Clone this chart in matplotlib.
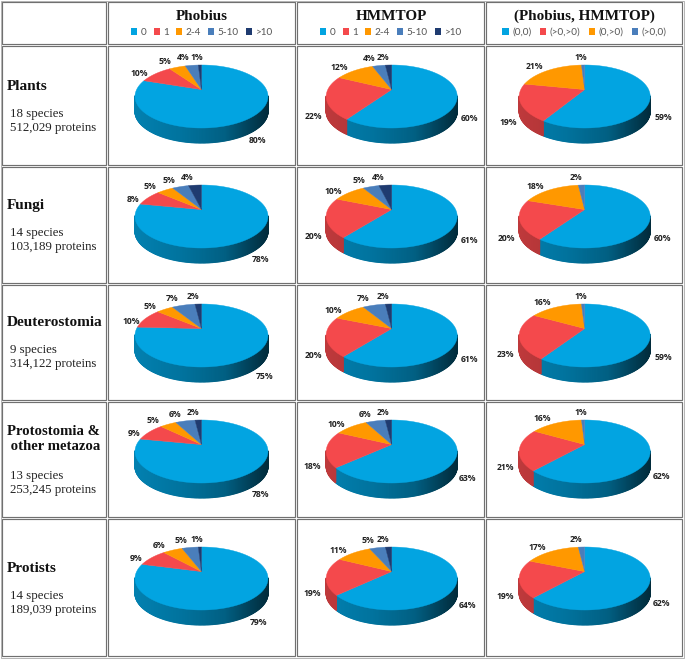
import numpy as np
import matplotlib
matplotlib.use("Agg")
import matplotlib.pyplot as plt
from matplotlib.patches import Patch, Rectangle

W, H = 685, 659

# ---------- data ----------
kingdoms = ["Plants", "Fungi", "Deuterostomia", "Protostomia &\n other metazoa", "Protists"]
species = ["18 species", "14 species", "9 species", "13 species", "14 species"]
proteins = ["512,029 proteins", "103,189 proteins", "314,122 proteins", "253,245 proteins", "189,039 proteins"]
methods = ["Phobius", "HMMTOP", "(Phobius, HMMTOP)"]
legend_tm = ["0", "1", "2-4", "5-10", ">10"]
legend_pair = ["(0,0)", "(>0,>0)", "(0,>0)", "(>0,0)"]
phobius = [[80, 10, 5, 4, 1], [78, 8, 5, 5, 4], [75, 10, 5, 7, 2], [78, 9, 5, 6, 2], [79, 9, 6, 5, 1]]
hmmtop = [[60, 22, 12, 4, 2], [61, 20, 10, 5, 4], [61, 20, 10, 7, 2], [63, 18, 10, 6, 2], [64, 19, 11, 5, 2]]
combined = [[59, 19, 21, 1], [60, 20, 18, 2], [59, 23, 16, 1], [62, 21, 16, 1], [62, 19, 17, 2]]
colors = ["#02A4E1", "#F4494C", "#FF9800", "#4A7EBB", "#1F3B70"]

# ---------- layout (pixels) ----------
col_edges = [(2, 106.5), (108.5, 295.5), (297.5, 484.5), (486.5, 682.5)]
row_edges = [(2, 43.5), (45.5, 164.5), (166.5, 282.5), (284.5, 400), (401.5, 517), (518.5, 656)]
pie_cx = [201.5, 391.7, 584.7]
pie_rx = [66.5, 65.5, 65.5]
pie_top = [65, 185, 304, 420, 547]
RY, DEPTH, APEX = 31.5, 15.0, 0.22

fig = plt.figure(figsize=(W / 100, H / 100), dpi=100, facecolor="white")
bg = fig.add_axes([0, 0, 1, 1])
bg.set_xlim(0, W)
bg.set_ylim(H, 0)
bg.axis("off")

for x0, x1 in col_edges:
    for y0, y1 in row_edges:
        bg.add_patch(Rectangle((x0, y0), x1 - x0, y1 - y0, fc="white", ec="#707070", lw=0.85))
bg.add_patch(Rectangle((0.8, 0.8), 683, 657, fc="none", ec="#A8A8A8", lw=0.6))

serif = "Liberation Serif"
for j, name in enumerate(methods):
    cx = sum(col_edges[j + 1]) / 2
    bg.text(cx, 16.5, name, family=serif, weight="bold", fontsize=10.9, ha="center", va="center", color="#111111")

title_y = [86, 205.5, 322, 439, 569]
title_size = [11, 11, 11, 10.6, 11]
sub_y = [114, 233, 350, 476, 596]
for i in range(5):
    bg.text(7, title_y[i], kingdoms[i], family=serif, weight="bold", fontsize=title_size[i], ha="left", va="center",
            color="#111111", linespacing=1.28)
    bg.text(10, sub_y[i], species[i], family=serif, fontsize=9.3, ha="left", va="center", color="#222222")
    bg.text(10, sub_y[i] + 14, proteins[i], family=serif, fontsize=9.3, ha="left", va="center", color="#222222")

# legends
for j, labels in enumerate([legend_tm, legend_tm, legend_pair]):
    cx = sum(col_edges[j + 1]) / 2
    handles = [Patch(fc=colors[k], ec="none", label=labels[k]) for k in range(len(labels))]
    fig.legend(handles=handles, ncol=len(labels), loc="center",
               bbox_to_anchor=(cx / W, 1 - 32.3 / H), frameon=False,
               prop={"family": "Lato", "size": 7.2}, labelcolor="#555555",
               handlelength=0.62, handleheight=0.62, handletextpad=0.35,
               columnspacing=0.7 if j < 2 else 0.85, borderpad=0, borderaxespad=0)


def rim(theta):
    """Where a ray from the raised pie apex meets the circular rim."""
    dx, dy = np.cos(theta), np.sin(theta)
    b = APEX * dy
    t = -b + np.sqrt(b * b - APEX * APEX + 1)
    return t * dx, APEX + t * dy


def side_shade(x):
    return np.interp(x, [-1, -0.3, 0.35, 0.75, 1], [0.78, 0.70, 0.58, 0.38, 0.26])


def label_pos(mid):
    """Label centre around the pie, from a slice's middle direction."""
    s, c = np.cos(mid), np.sin(mid)
    if c > 0:
        return s * 1.05 + np.sign(s) * min(0.08, abs(s)), c * 1.25
    return s * 1.2 + np.sign(s) * 0.16 * abs(c), c * 1.4 - 0.28


def draw_pie(ax, values):
    total = sum(values)
    cum = np.concatenate([[0], np.cumsum(values)]) / total
    bounds = np.pi / 2 - 2 * np.pi * cum
    depth = DEPTH / RY
    for k in range(len(values)):
        th = np.linspace(bounds[k], bounds[k + 1], max(int(values[k] * 4), 3))
        xs, ys = rim(th)
        rgb = np.array(matplotlib.colors.to_rgb(colors[k]))
        for m in range(len(th) - 1):
            if ys[m] < 0.02 or ys[m + 1] < 0.02:
                shade = side_shade((xs[m] + xs[m + 1]) / 2)
                ax.fill([xs[m], xs[m + 1], xs[m + 1], xs[m]],
                        [ys[m], ys[m + 1], ys[m + 1] - depth, ys[m] - depth],
                        color=rgb * shade, lw=0.8, zorder=1)
        ax.fill(np.r_[0, xs], np.r_[APEX, ys], color=colors[k], lw=0.3, zorder=2)
    for k, v in enumerate(values):
        lx, ly = label_pos((bounds[k] + bounds[k + 1]) / 2)
        ax.text(lx, ly, f"{v}%", family="Open Sans", weight="bold", fontsize=6.2, ha="center", va="center",
                color="#222222", zorder=3)


for j, table in enumerate([phobius, hmmtop, combined]):
    x0, x1 = col_edges[j + 1]
    for i, vals in enumerate(table):
        y0, y1 = row_edges[i + 1]
        ax = fig.add_axes([(x0 + 1) / W, 1 - (y1 - 1) / H, (x1 - x0 - 2) / W, (y1 - y0 - 2) / H])
        ax.patch.set_alpha(0)
        ax.axis("off")
        cy = pie_top[i] + RY
        rx = pie_rx[j]
        ax.set_xlim((x0 + 1 - pie_cx[j]) / rx, (x1 - 1 - pie_cx[j]) / rx)
        ax.set_ylim((cy - (y1 - 1)) / RY, (cy - (y0 + 1)) / RY)
        draw_pie(ax, vals)

fig.savefig("out.png", dpi=100)
